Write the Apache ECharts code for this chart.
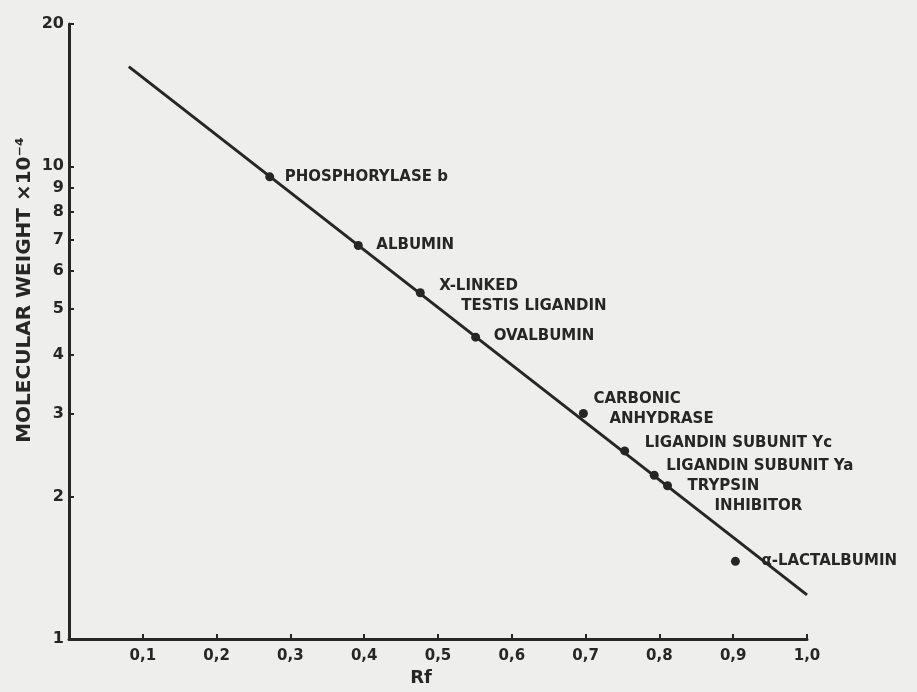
<!DOCTYPE html>
<html>
<head>
<meta charset="utf-8">
<script src="https://cdn.jsdelivr.net/npm/echarts@6/dist/echarts.min.js"></script>
<style>
  html, body { margin: 0; padding: 0; background: #eeeeec; }
  #chart { width: 917px; height: 692px; }
</style>
</head>
<body>
<div id="chart"></div>
<script>
// Calibration proteins: relative mobility (Rf) and molecular weight (x10^-4)
const proteinNames = [
  ['PHOSPHORYLASE b'],
  ['ALBUMIN'],
  ['X-LINKED', 'TESTIS LIGANDIN'],
  ['OVALBUMIN'],
  ['CARBONIC', 'ANHYDRASE'],
  ['LIGANDIN SUBUNIT Yc'],
  ['LIGANDIN SUBUNIT Ya'],
  ['TRYPSIN', 'INHIBITOR'],
  ['α-LACTALBUMIN']
];
const rfValues = [0.272, 0.392, 0.476, 0.551, 0.697, 0.753, 0.793, 0.811, 0.903];
const mwValues = [9.5, 6.8, 5.4, 4.35, 3.0, 2.5, 2.22, 2.11, 1.46];

// Fitted calibration line (end points)
const fitRf = [0.081, 1.0];
const fitMw = [16.25, 1.24];

// Axis ticks
const xTickValues = [0.1, 0.2, 0.3, 0.4, 0.5, 0.6, 0.7, 0.8, 0.9, 1.0];
const yLabelValues = [1, 2, 3, 4, 5, 6, 7, 8, 9, 10, 20];
const yTickValues = [2, 3, 4, 5, 6, 7, 8, 9, 10, 20];

const ink = '#262626';
const labelFont = 'DejaVu Sans';
const symbolSize = 9;

// label placement relative to each point: [dx to text left, dy to text centre, second-line indent]
const labelPlacement = [
  [15, 0, 0],
  [18, 0, 0],
  [19, 3.5, 22],
  [18, -1.5, 0],
  [10, -4, 16],
  [20, -8, 0],
  [12, -9, 0],
  [20, 10, 27],
  [26, 0, 0]
];

const baseText = {
  fontFamily: labelFont,
  fontWeight: 'bold',
  fontSize: 15,
  color: ink,
  lineHeight: 20
};

const pointData = rfValues.map((rf, i) => {
  const lines = proteinNames[i];
  const [dx, dy, indent] = labelPlacement[i];
  return {
    value: [rf, mwValues[i]],
    label: {
      show: true,
      // position is measured from the top-left of the symbol's box
      position: [symbolSize / 2 + dx, symbolSize / 2 + dy],
      align: 'left',
      verticalAlign: 'middle',
      formatter: lines.length > 1
        ? '{a|' + lines[0] + '}\n{b|' + lines[1] + '}'
        : '{a|' + lines[0] + '}',
      rich: {
        a: Object.assign({}, baseText),
        b: Object.assign({}, baseText, { padding: [0, 0, 0, indent] })
      }
    }
  };
});

const chart = echarts.init(document.getElementById('chart'), null, { renderer: 'canvas' });

chart.setOption({
  backgroundColor: '#eeeeec',
  animation: false,
  grid: { left: 69, right: 110, top: 24, bottom: 52, containLabel: false },
  xAxis: {
    type: 'value',
    min: 0,
    max: 1,
    interval: 0.1,
    name: 'Rf',
    nameLocation: 'middle',
    nameGap: 30,
    nameTextStyle: {
      fontFamily: labelFont,
      fontWeight: 'bold',
      fontSize: 18,
      color: ink,
      padding: [0, 34, 0, 0]
    },
    splitLine: { show: false },
    axisLine: { show: true, lineStyle: { color: ink, width: 3 } },
    axisTick: {
      show: true,
      inside: true,
      length: 5,
      customValues: xTickValues,
      lineStyle: { color: ink, width: 2 }
    },
    axisLabel: {
      customValues: xTickValues,
      margin: 10,
      fontFamily: labelFont,
      fontWeight: 'bold',
      fontSize: 15,
      color: ink,
      formatter: v => v.toFixed(1).replace('.', ',')
    }
  },
  yAxis: {
    type: 'log',
    logBase: 10,
    min: 1,
    max: 20,
    splitLine: { show: false },
    axisLine: { show: true, lineStyle: { color: ink, width: 3 } },
    axisTick: {
      show: true,
      inside: true,
      length: 5,
      customValues: yTickValues,
      lineStyle: { color: ink, width: 2 }
    },
    axisLabel: {
      customValues: yLabelValues,
      margin: 5,
      fontFamily: labelFont,
      fontWeight: 'bold',
      fontSize: 16,
      color: ink,
      formatter: v => String(Math.round(v))
    }
  },
  graphic: [
    {
      type: 'text',
      x: 25,
      y: 290,
      rotation: Math.PI / 2,
      style: {
        text: 'MOLECULAR WEIGHT ×10⁻⁴',
        fontFamily: labelFont,
        fontWeight: 'bold',
        fontSize: 20,
        fill: ink,
        align: 'center',
        verticalAlign: 'middle'
      }
    }
  ],
  series: [
    {
      type: 'line',
      data: fitRf.map((rf, i) => [rf, fitMw[i]]),
      showSymbol: false,
      symbol: 'none',
      lineStyle: { color: ink, width: 3 },
      silent: true,
      z: 2
    },
    {
      type: 'scatter',
      data: pointData,
      symbol: 'circle',
      symbolSize: symbolSize,
      itemStyle: { color: ink, opacity: 1 },
      labelLayout: { hideOverlap: false },
      z: 3
    }
  ]
});
</script>
</body>
</html>
